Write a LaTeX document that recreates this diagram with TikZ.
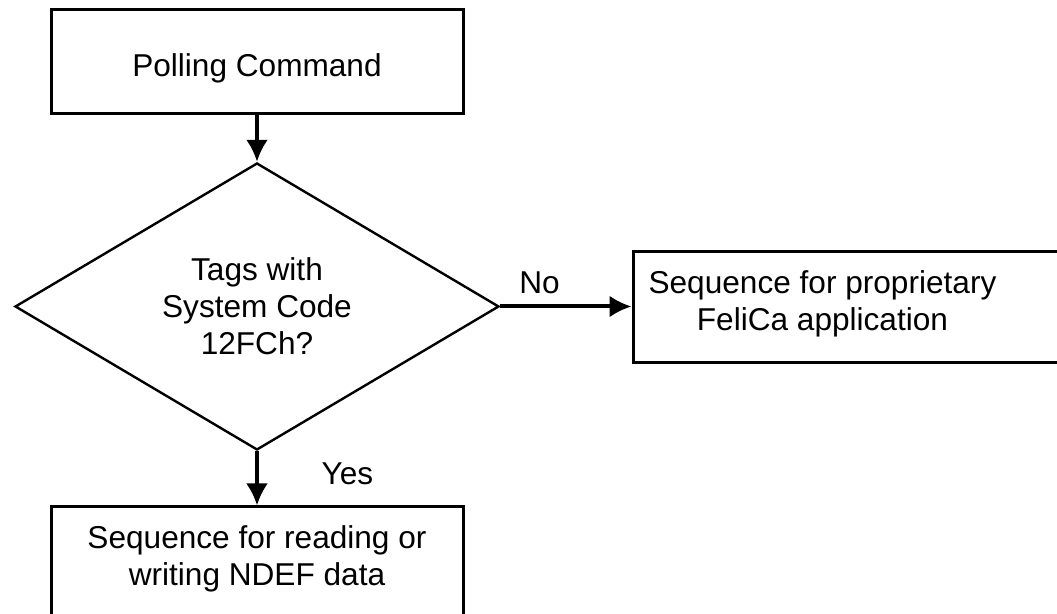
\documentclass[tikz,border=0pt]{standalone}
\usepackage{fontspec}
\setmainfont{Liberation Sans}
\usetikzlibrary{positioning,arrows.meta,shapes.geometric}

\begin{document}
\begin{tikzpicture}[x=0.5pt,y=-0.5pt,font=\fontsize{15.8}{18.5}\selectfont,
box/.style={rectangle,draw,line width=1.5pt,inner sep=0pt},
decision/.style={diamond,draw,line width=1.2pt,inner sep=0pt,align=center,minimum width=242pt,minimum height=143.5pt},
txt/.style={align=center,inner sep=0pt},
edge/.style={-{Latex[length=11pt,width=11pt]},line width=2pt}]

% frame
\useasboundingbox (0,0) rectangle (1057,614);
\clip (0,0) rectangle (1057,614);

% boxes
\node[box,minimum width=206pt,minimum height=52pt] (poll) at (257,62) {};
\node[decision] (check) at (257,306.5) {Tags with\\System Code\\12FCh?};
\node[box,minimum width=223.5pt,minimum height=55.5pt] (felica) at (856.5,307.5) {};
\node[box,minimum width=206pt,minimum height=76.5pt] (ndef) at (257,583.5) {};

% texts
\node[txt,anchor=base] (polltext) at (257,77) {Polling Command};
\node[txt] (felicatext) at (822.5,303.5) {Sequence for proprietary\\FeliCa application};
\node[txt] (ndeftext) at (257,558.5) {Sequence for reading or\\writing NDEF data};

% arrows
\draw[edge] (poll) -- (check);
\draw[edge] (check.east) -- (check.east -| felica.west) node [pos=0.3, above=2pt] {No};
\draw[edge] (check.south) -- (ndef) node [pos=0.42, right=28pt] {Yes};
\end{tikzpicture}
\end{document}
